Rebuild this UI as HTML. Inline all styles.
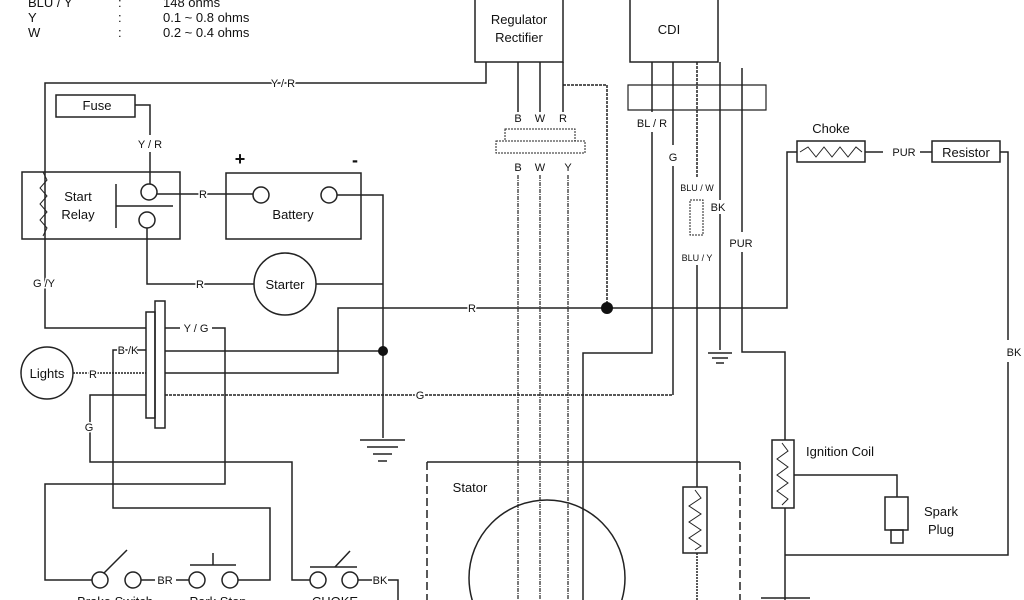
<!DOCTYPE html>
<html><head><style>
html,body{margin:0;background:#fff;width:1024px;height:600px;overflow:hidden}
svg{display:block}
text{font-family:"Liberation Sans",sans-serif;fill:#111}
</style></head><body>
<svg width="1024" height="600" viewBox="0 0 1024 600" xmlns="http://www.w3.org/2000/svg">
<g font-size="13">
<text x="28" y="7">BLU / Y</text><text x="118" y="7">:</text><text x="163" y="7">148 ohms</text>
<text x="28" y="22">Y</text><text x="118" y="22">:</text><text x="163" y="22">0.1 ~ 0.8 ohms</text>
<text x="28" y="37">W</text><text x="118" y="37">:</text><text x="163" y="37">0.2 ~ 0.4 ohms</text>
</g>
<g fill="none" stroke="#222" stroke-width="1.5">
<rect x="475" y="-2" width="88" height="64"/>
<rect x="630" y="-2" width="88" height="64"/>
<polyline points="486,62 486,83 45,83 45,328 146,328"/>
<rect x="56" y="95" width="79" height="22"/>
<polyline points="135,105 150,105 150,135"/>
<line x1="150" y1="152" x2="150" y2="184"/>
<rect x="22" y="172" width="158" height="67"/>
<polyline points="43,172 47,180 40,188 47,196 40,204 47,212 40,220 47,228 43,236" stroke-width="1"/>
<line x1="116" y1="184" x2="116" y2="228"/>
<line x1="116" y1="206" x2="173" y2="206"/>
<circle cx="149" cy="192" r="8"/>
<circle cx="147" cy="220" r="8"/>
<line x1="157" y1="194" x2="253" y2="194"/>
<rect x="226" y="173" width="135" height="66"/>
<circle cx="261" cy="195" r="8"/>
<circle cx="329" cy="195" r="8"/>
<polyline points="337,195 383,195 383,438"/>
<polyline points="147,228 147,284 254,284"/>
<circle cx="285" cy="284" r="31"/>
<line x1="316" y1="284" x2="383" y2="284"/>
<line x1="360" y1="440" x2="405" y2="440"/><line x1="367" y1="447" x2="398" y2="447"/><line x1="373" y1="454" x2="392" y2="454"/><line x1="378" y1="461" x2="387" y2="461"/>
<rect x="146" y="312" width="9" height="106"/>
<rect x="155" y="301" width="10" height="127"/>
<polyline points="165,328 180,328"/><polyline points="212,328 225,328 225,484 45,484 45,580 92,580"/>
<polyline points="146,350 113,350 113,508 270,508 270,580 238,580"/>
<circle cx="47" cy="373" r="26"/>
<line x1="73" y1="373" x2="146" y2="373" stroke-dasharray="2,1"/>
<line x1="165" y1="351" x2="383" y2="351"/>
<polyline points="165,373 338,373 338,308 787,308 787,152 797,152"/>
<polyline points="146,395 90,395 90,462 292,462 292,580 310,580"/>
<line x1="165" y1="395" x2="673" y2="395" stroke-dasharray="3,1"/>
<circle cx="100" cy="580" r="8"/><circle cx="133" cy="580" r="8"/>
<circle cx="197" cy="580" r="8"/><circle cx="230" cy="580" r="8"/>
<circle cx="318" cy="580" r="8"/><circle cx="350" cy="580" r="8"/>
<line x1="104" y1="573" x2="127" y2="550"/>
<line x1="141" y1="580" x2="155" y2="580"/><line x1="176" y1="580" x2="189" y2="580"/>
<line x1="190" y1="565" x2="236" y2="565"/><line x1="213" y1="565" x2="213" y2="553"/>
<line x1="310" y1="567" x2="357" y2="567"/><line x1="335" y1="567" x2="350" y2="551"/>
<polyline points="358,580 372,580"/><polyline points="388,580 398,580 398,600"/>
<line x1="518" y1="62" x2="518" y2="112"/><line x1="540" y1="62" x2="540" y2="112"/><line x1="563" y1="62" x2="563" y2="112"/>
<polyline points="563,85 607,85 607,308" stroke-dasharray="3,1"/>
<rect x="505" y="129" width="70" height="12" stroke-dasharray="2,1" stroke-width="1"/>
<rect x="496" y="141" width="89" height="12" stroke-dasharray="2,1" stroke-width="1"/>
<g stroke-dasharray="4,1,1,1" stroke-width="1.2">
<line x1="518" y1="175" x2="518" y2="600"/><line x1="540" y1="175" x2="540" y2="600"/><line x1="568" y1="175" x2="568" y2="600"/>
</g>
<path d="M628,85 H766 V110 H628 Z" stroke-width="1.2"/>
<line x1="652" y1="62" x2="652" y2="112"/><polyline points="652,132 652,353 583,353 583,600"/>
<line x1="673" y1="62" x2="673" y2="145"/><line x1="673" y1="166" x2="673" y2="395"/>
<line x1="697" y1="62" x2="697" y2="178" stroke-dasharray="3,1"/>
<rect x="690" y="200" width="13" height="35" stroke-dasharray="2,1" stroke-width="1"/>
<line x1="697" y1="265" x2="697" y2="487"/>
<line x1="720" y1="62" x2="720" y2="200"/><line x1="720" y1="214" x2="720" y2="350"/>
<line x1="708" y1="353" x2="732" y2="353"/><line x1="712" y1="358" x2="728" y2="358"/><line x1="716" y1="363" x2="724" y2="363"/>
<polyline points="742,68 742,232"/><polyline points="742,252 742,352 785,352 785,440"/>
<line x1="427" y1="462" x2="740" y2="462"/>
<line x1="427" y1="462" x2="427" y2="600" stroke-dasharray="8,4"/>
<line x1="740" y1="462" x2="740" y2="600" stroke-dasharray="8,4"/>
<circle cx="547" cy="578" r="78"/>
<rect x="683" y="487" width="24" height="66"/>
<polyline points="695,490 701,498 689,506 701,514 689,522 701,530 689,538 701,546 695,550" stroke-width="1"/>
<line x1="697" y1="553" x2="697" y2="600" stroke-dasharray="2,1"/>
<rect x="797" y="141" width="68" height="21"/>
<polyline points="800,152 808,147 816,157 824,147 832,157 840,147 848,157 856,147 862,152" stroke-width="1"/>
<line x1="865" y1="152" x2="883" y2="152"/><line x1="920" y1="152" x2="932" y2="152"/>
<rect x="932" y="141" width="68" height="21"/>
<polyline points="1000,152 1008,152 1008,340"/><polyline points="1008,362 1008,555 785,555"/>
<rect x="772" y="440" width="22" height="68"/>
<polyline points="782,443 788,451 777,459 788,467 777,475 788,483 777,491 788,499 782,505" stroke-width="1"/>
<polyline points="794,475 897,475 897,497"/>
<rect x="885" y="497" width="23" height="33"/>
<rect x="891" y="530" width="12" height="13"/>
<line x1="785" y1="508" x2="785" y2="600"/>
<line x1="761" y1="598" x2="810" y2="598"/>
</g>
<circle cx="383" cy="351" r="5" fill="#111"/>
<circle cx="607" cy="308" r="6" fill="#111"/>
<g font-size="13" text-anchor="middle">
<text x="519" y="24">Regulator</text><text x="519" y="42">Rectifier</text>
<text x="669" y="34">CDI</text>
<text x="97" y="110">Fuse</text>
<text x="78" y="201">Start</text><text x="78" y="219">Relay</text>
<text x="293" y="219">Battery</text>
<text x="285" y="289">Starter</text>
<text x="47" y="378">Lights</text>
<text x="831" y="133">Choke</text>
<text x="966" y="157">Resistor</text>
<text x="840" y="456">Ignition Coil</text>
<text x="941" y="516">Spark</text><text x="941" y="534">Plug</text>
<text x="470" y="492">Stator</text>
<text x="115" y="606">Brake Switch</text>
<text x="218" y="606">Park Stop</text>
<text x="335" y="606">CHOKE</text>
</g>
<g font-size="11" text-anchor="middle" style="paint-order:stroke" stroke="#fff" stroke-width="3">
<text x="283" y="87">Y / R</text>
<text x="150" y="148">Y / R</text>
<text x="203" y="198">R</text>
<text x="200" y="288">R</text>
<text x="44" y="287">G /Y</text>
<text x="196" y="332">Y / G</text>
<text x="128" y="354">B /K</text>
<text x="93" y="378">R</text>
<text x="89" y="431">G</text>
<text x="472" y="312">R</text>
<text x="420" y="399">G</text>
<text x="165" y="584">BR</text>
<text x="380" y="584">BK</text>
<text x="518" y="122">B</text><text x="540" y="122">W</text><text x="563" y="122">R</text>
<text x="518" y="171">B</text><text x="540" y="171">W</text><text x="568" y="171">Y</text>
<text x="652" y="127">BL / R</text>
<text x="673" y="161">G</text>
<text x="741" y="247">PUR</text>
<text x="718" y="211">BK</text>
<text x="904" y="156">PUR</text>
<text x="1014" y="356">BK</text>
</g>
<g font-size="9" text-anchor="middle">
<text x="697" y="191">BLU / W</text>
<text x="697" y="261">BLU / Y</text>
</g>
<g font-size="18" font-weight="bold" text-anchor="middle">
<text x="240" y="165">+</text><text x="355" y="166">-</text>
</g>
</svg>
</body></html>
